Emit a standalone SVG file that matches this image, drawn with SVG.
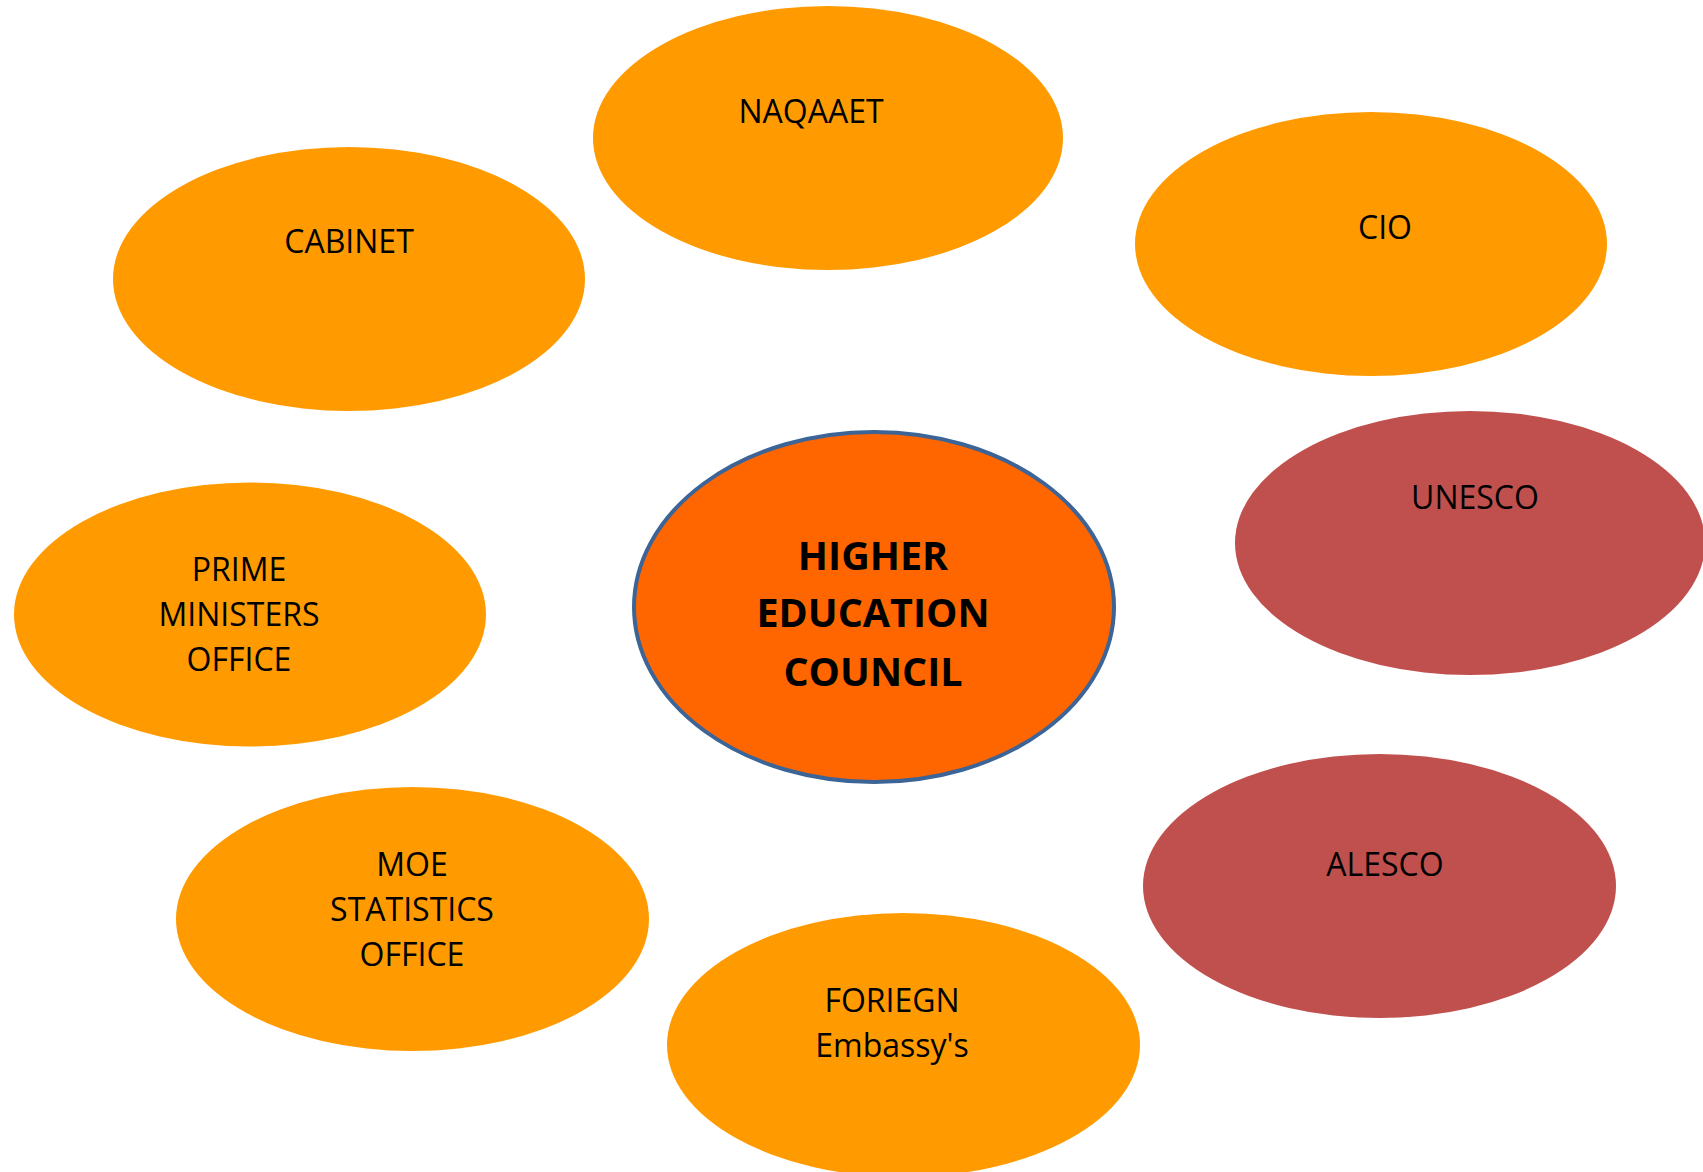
<svg xmlns="http://www.w3.org/2000/svg" width="1703" height="1172" viewBox="0 0 1703 1172">
<style>
.orange{fill:#ff9b00}
.red{fill:#c0504d}
.centre{fill:#ff6600;stroke:#3c6496;stroke-width:4}
.lbl{font-family:"Open Sans","Liberation Sans",sans-serif;font-size:32px;fill:#000;text-anchor:middle}
.big{font-family:"Open Sans","Liberation Sans",sans-serif;font-size:39.5px;font-weight:bold;fill:#000;text-anchor:middle}
</style>
<rect width="1703" height="1172" fill="#ffffff"/>
<g id="connectors"/>
<g id="naqaaet">
<ellipse class="orange" cx="828" cy="138" rx="235" ry="132"/>
<text class="lbl" x="811" y="123">NAQAAET</text>
</g>
<g id="cabinet">
<ellipse class="orange" cx="349" cy="279" rx="236" ry="132"/>
<text class="lbl" x="349" y="253">CABINET</text>
</g>
<g id="cio">
<ellipse class="orange" cx="1371" cy="244" rx="236" ry="132"/>
<text class="lbl" x="1385" y="239">CIO</text>
</g>
<g id="unesco">
<ellipse class="red" cx="1470" cy="543" rx="235" ry="132"/>
<text class="lbl" x="1475" y="509">UNESCO</text>
</g>
<g id="prime-ministers-office">
<ellipse class="orange" cx="250" cy="614.5" rx="236" ry="132"/>
<text class="lbl" x="239" y="581">PRIME</text>
<text class="lbl" x="239" y="626">MINISTERS</text>
<text class="lbl" x="239" y="671">OFFICE</text>
</g>
<g id="higher-education-council">
<ellipse class="centre" cx="874" cy="607" rx="240" ry="175"/>
<text class="big" x="873" y="570">HIGHER</text>
<text class="big" x="873" y="627">EDUCATION</text>
<text class="big" x="873" y="686">COUNCIL</text>
</g>
<g id="moe-statistics-office">
<ellipse class="orange" cx="412.5" cy="919" rx="236.5" ry="132"/>
<text class="lbl" x="412" y="876">MOE</text>
<text class="lbl" x="412" y="921">STATISTICS</text>
<text class="lbl" x="412" y="966">OFFICE</text>
</g>
<g id="alesco">
<ellipse class="red" cx="1379.5" cy="886" rx="236.5" ry="132"/>
<text class="lbl" x="1385" y="876">ALESCO</text>
</g>
<g id="foreign-embassys">
<ellipse class="orange" cx="903.5" cy="1045" rx="236.5" ry="132"/>
<text class="lbl" x="892" y="1012">FORIEGN</text>
<text class="lbl" x="892" y="1057">Embassy's</text>
</g>
</svg>
